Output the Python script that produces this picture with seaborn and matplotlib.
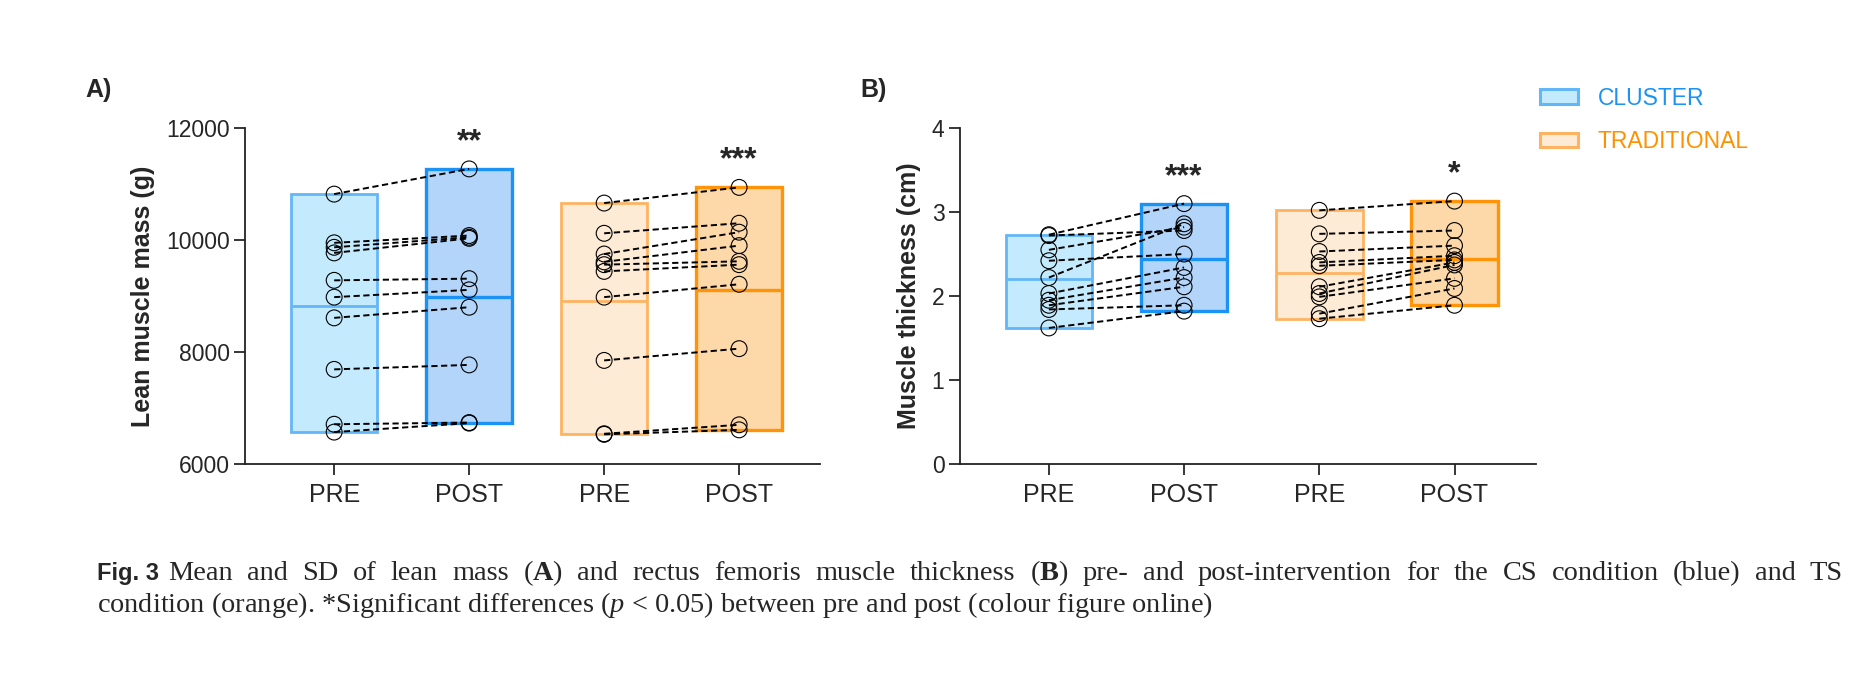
import matplotlib
matplotlib.use("Agg")
import numpy as np
import pandas as pd
import matplotlib.pyplot as plt
import seaborn as sns
from matplotlib.patches import Patch

# Style
sns.set_style("ticks")
plt.rcParams['font.family'] = ['Liberation Sans', 'DejaVu Sans']
plt.rcParams['mathtext.fontset'] = 'custom'
plt.rcParams['mathtext.rm'] = 'Liberation Serif'
plt.rcParams['mathtext.it'] = 'Liberation Serif:italic'
plt.rcParams['mathtext.bf'] = 'Liberation Serif:bold'

# --- Data ---
conditions = ["CLUSTER", "TRADITIONAL"]
tick_labels = ["PRE", "POST", "PRE", "POST"]

# A) lean muscle mass (g), paired by participant
lean_cluster_pre = [10820, 9950, 9870, 9770, 9280, 8980, 8610, 7690, 6710, 6570]
lean_cluster_post = [11270, 10080, 10050, 10030, 9310, 9110, 8800, 7770, 6740, 6730]
lean_trad_pre = [10660, 10120, 9750, 9610, 9560, 9440, 8980, 7850, 6540, 6530]
lean_trad_post = [10940, 10300, 10140, 9900, 9620, 9560, 9210, 8060, 6700, 6610]
lean_stars = ["**", "***"]

# B) muscle thickness (cm)
mt_cluster_pre = [2.73, 2.72, 2.55, 2.42, 2.22, 2.03, 1.95, 1.89, 1.84, 1.62]
mt_cluster_post = [3.10, 2.78, 2.82, 2.50, 2.86, 2.34, 2.22, 2.11, 1.89, 1.82]
mt_trad_pre = [3.02, 2.74, 2.53, 2.40, 2.36, 2.11, 2.03, 1.99, 1.79, 1.73]
mt_trad_post = [3.13, 2.78, 2.60, 2.48, 2.43, 2.40, 2.37, 2.21, 2.09, 1.89]
mt_stars = ["***", "*"]

# colours: (face, edge, linewidth) for pre / post of each condition
STYLE = [
    [("#C4EBFD", "#63B6F7", 2.0), ("#B3D5FA", "#1A93F5", 2.4)],
    [("#FDEBD5", "#FDB462", 2.0), ("#FDD8A8", "#FF9408", 2.4)],
]
TEXT_COLORS = ["#1A93F5", "#FF9100"]
BOX_W = 0.64

W, H = 1858, 676
fig = plt.figure(figsize=(W / 100, H / 100), dpi=100)
ax_a = fig.add_axes([0.1319, 0.3136, 0.3095, 0.497])
ax_b = fig.add_axes([0.5165, 0.3136, 0.3100, 0.497])


def draw_panel(ax, groups, ylim, yticks, ylabel, stars):
    rows = []
    for gi, (pre, post) in enumerate(groups):
        for si, (a, b) in enumerate(zip(pre, post)):
            rows.append({"pair": f"{gi}-{si}", "x": gi * 2, "value": a})
            rows.append({"pair": f"{gi}-{si}", "x": gi * 2 + 1, "value": b})
    df = pd.DataFrame(rows)

    # floating bars min-max with line at mean
    for gi, (pre, post) in enumerate(groups):
        for ti, vals in enumerate((pre, post)):
            pos = gi * 2 + ti
            face, edge, lw = STYLE[gi][ti]
            ax.bar(pos, max(vals) - min(vals), bottom=min(vals), width=BOX_W,
                   color=face, edgecolor=edge, linewidth=lw, zorder=1)
            ax.hlines(np.mean(vals), pos - BOX_W / 2, pos + BOX_W / 2,
                      color=edge, lw=lw, zorder=2)

    sns.lineplot(data=df, x="x", y="value", units="pair", estimator=None,
                 color="black", lw=1.4, linestyle=(0, (3.2, 1.8)), ax=ax, zorder=3)
    sns.scatterplot(data=df, x="x", y="value", marker="o", s=130,
                    fc="none", ec="black", linewidth=0.8, ax=ax, zorder=4)

    span = ylim[1] - ylim[0]
    for gi, (pre, post) in enumerate(groups):
        ax.text(gi * 2 + 1, max(post) + 0.08 * span, stars[gi], ha="center",
                va="center", fontsize=23, fontweight="bold")

    ax.set_xlim(-0.66, 3.6)
    ax.set_ylim(*ylim)
    ax.set_xticks(range(4))
    ax.set_xticklabels(tick_labels)
    ax.set_yticks(yticks)
    ax.set_xlabel("")
    ax.set_ylabel(ylabel, fontsize=18, fontweight="bold", labelpad=8)
    ax.tick_params(axis="y", labelsize=16.5, length=8, width=1.3, pad=3)
    ax.tick_params(axis="x", labelsize=18, length=8, width=1.3, pad=6)
    sns.despine(ax=ax)
    for sp in ("left", "bottom"):
        ax.spines[sp].set_linewidth(1.3)
        ax.spines[sp].set_color("#222222")


draw_panel(ax_a, [(lean_cluster_pre, lean_cluster_post), (lean_trad_pre, lean_trad_post)],
           (6000, 12000), [6000, 8000, 10000, 12000], "Lean muscle mass (g)", lean_stars)
draw_panel(ax_b, [(mt_cluster_pre, mt_cluster_post), (mt_trad_pre, mt_trad_post)],
           (0, 4), [0, 1, 2, 3, 4], "Muscle thickness (cm)", mt_stars)

fig.text(0.046, 0.867, "A)", fontsize=18, fontweight="bold", va="center")
fig.text(0.463, 0.867, "B)", fontsize=18, fontweight="bold", va="center")

# legend
handles = [Patch(facecolor=STYLE[i][0][0], edgecolor=STYLE[i][0][1], linewidth=2.2,
                 label=conditions[i]) for i in range(2)]
leg = fig.legend(handles=handles, loc="upper left", bbox_to_anchor=(0.829, 0.872),
                 frameon=False, fontsize=16.5, handlelength=1.65, handleheight=0.6,
                 labelspacing=0.9, handletextpad=0.85, borderpad=0, borderaxespad=0)
for t, c in zip(leg.get_texts(), TEXT_COLORS):
    t.set_color(c)

# caption
cap_size = 20.4
y1, y2 = 1 - 580 / H, 1 - 612 / H
fig.text(97 / W, y1, "Fig. 3", fontsize=17, fontweight="bold", va="baseline")
line1 = (r"Mean and SD of lean mass ($\mathbf{A}$) and rectus femoris muscle thickness "
         r"($\mathbf{B}$) pre- and post-intervention for the CS condition (blue) and TS")
line2 = (r"condition (orange). *Significant differences ($\mathit{p}$ < 0.05) between pre "
         r"and post (colour figure online)")
serif = ["Liberation Serif", "DejaVu Serif"]
renderer = fig.canvas.get_renderer()
words = line1.split(" ")
texts = [fig.text(0, y1, w, fontsize=cap_size, family=serif, va="baseline") for w in words]
widths = [t.get_window_extent(renderer).width for t in texts]
x_start, x_end = 168, 1843
gap = (x_end - x_start - sum(widths)) / (len(words) - 1)
x = x_start
for t, w in zip(texts, widths):
    t.set_x(x / W)
    x += w + gap
fig.text(97 / W, y2, line2, fontsize=cap_size, family=serif, va="baseline")

fig.savefig("out.png", dpi=100)
